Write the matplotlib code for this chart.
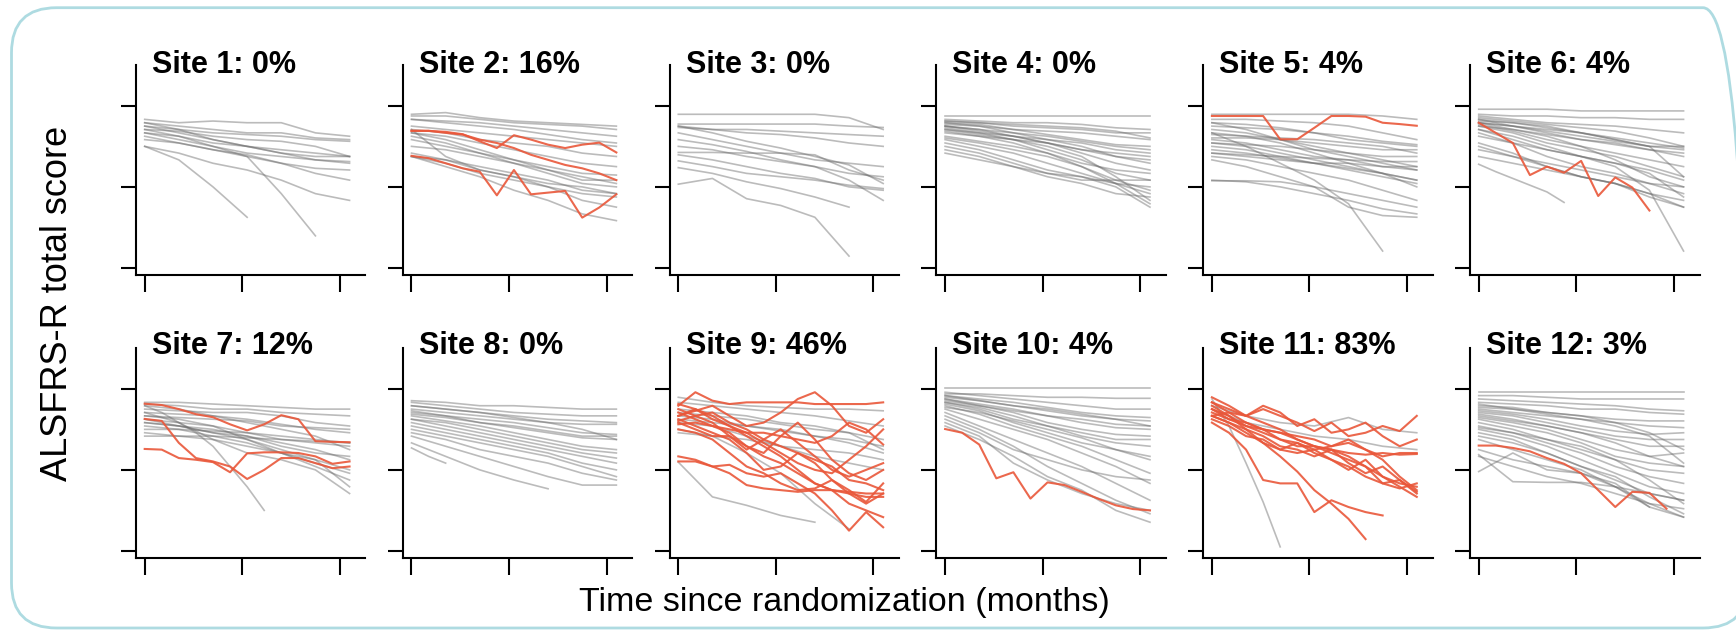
import matplotlib
matplotlib.use("Agg")
import matplotlib.pyplot as plt
from matplotlib.patches import FancyBboxPatch
from matplotlib.transforms import IdentityTransform

# visit schedules (months since randomization)
coarse_months = [0, 2.1, 4.2, 6.3, 8.4, 10.5, 12.6]
fine_months = [0, 1.05, 2.1, 3.15, 4.2, 5.25, 6.3, 7.35, 8.4, 9.45, 10.5, 11.55, 12.6]

titles = ["Site 1: 0%", "Site 2: 16%", "Site 3: 0%", "Site 4: 0%", "Site 5: 4%", "Site 6: 4%",
          "Site 7: 12%", "Site 8: 0%", "Site 9: 46%", "Site 10: 4%", "Site 11: 83%", "Site 12: 3%"]

# ALSFRS-R scores, gray = coarse schedule, red = fine schedule
s1_gray = [
    [44, 43, 43.5, 43, 43, 40, 39], [43, 42, 41, 40, 40, 38.5, 38], [42, 41, 40, 39.5, 39, 38, 37.5],
    [41, 40.5, 39, 38, 37.5, 36, 33], [42, 40, 38, 36, 35, 34, 33], [40, 39, 37, 36, 34, 32, 31],
    [39, 37, 35, 33, 31, 29.5, 29], [38, 37, 35, 33.5, 31, 28, 26], [36, 34, 31, 29, 26, 22, 20],
    [36, 32, 24, 15], [41, 39, 36, 33, 22, 9.5], [40, 38, 36, 34, 33, 32, 31.5],
    [43, 41, 38, 36, 34, 33, 33]]
s1_gray_fine = []
s1_red = []

s2_gray = [
    [45.5, 46, 44.5, 43.5, 43, 42.5, 42], [45, 45, 44, 43, 42.5, 42, 41], [44, 43.5, 43, 42, 41, 40, 39],
    [42, 41, 40, 39, 38, 37, 36], [41, 40, 38, 37, 36, 34, 33], [40, 39, 37, 35, 33, 31, 30],
    [40, 38, 35, 32, 30, 28, 27.5], [33, 32, 29, 27, 25, 24, 22], [33, 31, 28, 26, 24, 22, 21],
    [41, 33, 29, 27, 24, 20, 18], [33, 30, 27, 23, 20, 16, 14], [39, 37, 34, 32, 29, 26, 26],
    [36, 35, 33, 31, 29, 27, 25], [44, 43, 42, 41, 39.5, 38, 37], [34, 32, 30, 28, 26, 23, 22],
    [38, 36, 34, 31, 28, 25, 24]]
s2_gray_fine = []
s2_red = [
    [40.6, 40.6, 40.3, 39.6, 37.5, 35.5, 39.3, 38, 36.5, 35.5, 36.5, 37.1, 34.2],
    [40.6, 40.6, 40, 39.5, 38, 37, 35.5, 33.5, 32, 30.5, 29.5, 28, 26],
    [33.2, 32.5, 31, 29.5, 28.5, 21.5, 29, 21.8, 22.3, 22.8, 14.9, 17.9, 21.8]]

s3_gray = [
    [45.5, 45.5, 45.5, 45.5, 45.5, 44.5, 41], [42.6, 42.6, 42.6, 42.6, 42.6, 42, 41.6],
    [41.6, 41, 41, 40.5, 40, 39.5, 39], [42, 41, 40, 39.5, 38.5, 37, 36], [42, 40, 37.5, 35.5, 33, 30.5, 25],
    [34.2, 34.2, 34, 34, 33.5, 29, 26], [33.5, 32, 30, 28, 26.5, 24, 23], [31.7, 30, 28, 27, 26, 24.5, 23.5],
    [29.7, 28, 25.5, 23.5, 21, 18], [24.8, 26.5, 20.5, 18.5, 15, 3.5], [38, 36.5, 34.5, 32, 30, 26, 20],
    [40, 38, 36, 34, 32, 31, 30], [36, 35, 33, 31.5, 30, 28, 27]]
s3_gray_fine = []
s3_red = []

s4_gray = [
    [45, 45, 45, 45, 45, 45, 45], [44, 43.5, 43, 43, 42.5, 41.5, 41], [43.5, 43, 42, 41.5, 41, 40, 40],
    [43, 42, 41, 40.5, 40, 39, 38], [43, 42.5, 41, 39.5, 38, 36.5, 36], [42.5, 42, 40, 38, 37, 35, 34],
    [42, 41, 39, 37, 34, 31, 29], [42, 40.5, 39, 38, 36, 33, 32], [41, 40, 38, 35, 32, 28, 26],
    [41, 39.5, 38, 36, 33, 27, 20], [40.5, 39, 37, 34, 30, 25, 19], [40, 39, 38, 37, 35, 33, 31],
    [39, 37.5, 36, 34, 31, 29, 28], [38.5, 37, 35, 33, 30, 26, 23], [38, 36, 34, 31, 28, 25, 24],
    [37, 35, 32, 29, 27, 24, 18], [36, 34, 31, 28, 26, 26, 26], [35, 33, 30, 27, 25, 22, 21],
    [34, 32, 30, 28, 27, 25, 22], [43.5, 43, 42.5, 42, 41.5, 40.5, 38.5], [42, 41, 40, 39, 37.5, 36, 35],
    [41.5, 40, 39, 37, 35, 34, 33]]
s4_gray_fine = []
s4_red = []

s5_gray = [
    [45.5, 45.5, 45.5, 45.5, 45.5, 45, 44], [44, 44, 43.5, 43, 42, 40, 38], [43, 42.5, 41.5, 40, 38, 37, 36],
    [42, 41.5, 41, 40, 39, 37.5, 36.5], [43, 41, 38, 35, 33, 31, 29], [41, 40, 38, 36, 34, 32, 30],
    [40, 39, 37, 34, 31, 28, 26], [38.5, 38.5, 38, 37, 36, 35, 35], [38, 37, 35, 33, 32, 30, 29],
    [37, 36, 34, 32, 30, 28, 24], [34, 33.5, 33, 32.5, 32, 31.5, 31.5], [34, 33, 32, 31, 31, 30, 30],
    [33, 32, 30, 28, 26, 23, 20], [32, 30, 27, 24, 18, 15.5, 15], [40, 36, 31, 26, 19, 5],
    [25.8, 25.8, 25.5, 24, 22, 20, 18], [26, 25.5, 24, 22, 20, 17.5, 16], [36, 35, 33, 31, 29, 27, 25],
    [35, 34, 32.5, 31, 29.5, 28, 26], [39.5, 39, 38.5, 38, 37, 36, 34], [37, 36.5, 36, 35, 34, 33, 33]]
s5_gray_fine = []
s5_red = [[45, 45, 45, 45, 38.1, 38.1, 41.5, 45, 45, 44.8, 43, 42.6, 42.1]]

s6_gray = [
    [47, 47, 47, 46.5, 46.5, 46.5, 46.5], [45.5, 45, 45, 44.5, 44.5, 44, 44], [45, 44, 43, 42.5, 42, 41, 40],
    [44.5, 43.5, 42.5, 41.5, 40.5, 38.5, 36], [44, 43, 41.5, 40, 38.5, 37, 35.5], [43.5, 43, 42, 40, 38, 36, 36],
    [43, 42, 40.5, 39, 37.5, 36, 35], [43, 41, 39.5, 38, 36.5, 35, 34], [42.5, 40.5, 38, 36, 34, 32, 30],
    [42, 40, 37, 35, 33, 30, 27], [42, 41, 39, 36, 32, 27, 24], [41, 38, 35, 33, 31, 29, 26],
    [40, 37, 33, 30, 28, 25, 22], [39, 37, 35, 33, 31, 28, 21], [37, 34, 30, 27, 25, 22, 18],
    [36, 33, 30, 27, 25, 21, 18], [33, 31, 29, 27, 25, 22, 20], [41, 39, 36, 33, 30, 23, 5],
    [44, 42, 40, 38, 37, 35, 33], [43, 42, 41, 40, 38, 36, 27], [35, 33, 31, 29, 27, 25, 24]]
s6_gray_fine = [[30.7, 28.5, 26.5, 24.5, 22.5, 19.4]]
s6_red = [[43, 40, 37, 27.5, 30, 28.2, 31.7, 21.3, 26.8, 23.8, 17]]

s7_gray = [
    [44, 44, 43.5, 43, 42.5, 42, 42], [43.5, 43, 42, 42, 41, 40.5, 40], [42, 41.5, 41, 41, 40, 38, 37],
    [41, 40.5, 40, 39, 37.5, 36, 35], [40, 39.5, 39, 38.5, 37, 36.5, 36], [39, 38, 37, 35, 33, 32, 31],
    [38, 37, 35, 34, 31, 29, 28], [40, 39, 37, 33, 29, 25, 21], [41, 38, 33, 29, 27, 24, 17],
    [36, 36, 35.5, 35, 34, 33, 32], [34, 34, 34, 33.5, 33, 32.5, 32], [38, 37, 35, 33, 30, 27, 24],
    [37, 36, 34, 32, 29, 27, 19], [43, 42, 40, 38, 36, 34, 30], [39, 37, 36, 34, 32, 30, 27],
    [35, 34, 33, 31, 29, 26, 23]]
s7_gray_fine = [[43, 41, 38, 35, 31, 25, 19, 12]]
s7_red = [
    [43.6, 43.2, 42, 40.5, 39.6, 37.5, 35.7, 37.5, 40.2, 39, 32.5, 32.3, 32.2],
    [30.2, 30, 27.5, 27, 26.3, 23.3, 28.9, 29.2, 29.2, 29, 28, 25.8, 26.5],
    [39.1, 38.5, 32, 27.5, 26.5, 25, 21.3, 24, 27.5, 27.5, 26, 24.5, 25]]

s8_gray = [
    [44.5, 44, 43, 43, 42.5, 42, 42], [44, 43, 42, 41, 40.5, 40, 40], [43, 42, 41, 40, 39, 38.5, 38],
    [42, 41, 40, 39, 38, 37.5, 37.5], [41.5, 40, 39, 38, 36.5, 35, 34.5], [41, 40, 38, 37, 35.5, 34, 34],
    [40.5, 39.5, 38, 36.5, 35, 33.5, 33], [40, 38.5, 37, 35, 33, 31, 30], [39, 37, 35, 33, 31, 29, 27.5],
    [38, 36, 34, 32, 30, 28, 26], [37, 35, 33, 31, 29, 26, 24], [36, 34, 32, 30, 28, 25, 22],
    [35, 33, 30, 28, 26, 23, 21], [34, 31, 28, 25, 22, 19.5, 19.5], [32, 28, 24, 21, 18.4],
    [43, 42, 41, 39.5, 38, 36, 33], [39, 38, 36, 34, 32, 30, 29]]
s8_gray_fine = [[30.5, 28, 26]]
s8_red = []

s9_gray = [
    [45.5, 44, 43, 42.5, 42, 42, 41.5], [41, 40, 39, 37.5, 36, 35, 33], [40, 39, 37, 35.5, 34, 32, 29],
    [39, 38, 37, 36, 34, 33, 31], [38, 37, 34, 31, 28, 26, 24], [26.3, 16, 13.5, 10.5, 8.5],
    [36, 34, 29, 23, 14, 6.5], [42, 41, 40, 38, 37, 35, 30], [35, 34, 33, 31, 30, 29, 27],
    [44, 43, 42, 41, 40, 38.5, 37]]
s9_gray_fine = []
s9_red = [
    [43, 47, 44.5, 43.5, 44, 44, 44, 44, 43.5, 43.5, 43.5, 43.5, 44],
    [40, 41.5, 43, 40, 37, 38, 41, 45, 47, 43, 37, 35, 39],
    [38.5, 40, 41, 38, 36, 33, 31, 29, 27, 25, 21, 20, 18],
    [37.5, 38, 37, 35, 31, 29, 34, 38, 33, 27, 23, 21, 24],
    [41, 39, 37, 36, 35, 32, 29, 26, 24, 23, 27, 31, 36],
    [39, 37, 35, 33, 29, 24, 25, 29, 26, 21, 18, 14.5, 20],
    [36, 35, 33, 29, 25, 23, 20, 18, 18.5, 21, 17, 14, 17],
    [26.5, 26.5, 25, 25.5, 23, 22, 23, 20, 17, 12, 6, 11.5, 7],
    [28, 27, 25, 23, 19.5, 18.5, 18, 17.5, 18, 18, 17.5, 17, 17],
    [42, 40, 38, 34, 30, 33, 36, 32, 28, 24, 22, 24, 26],
    [40, 42, 39, 37, 35, 35, 34, 33, 32, 34, 38, 36, 31.5],
    [43.5, 42, 40, 37, 34, 31, 28, 24, 20, 18, 17, 16, 16],
    [38, 36, 34, 34, 31, 28, 26, 23, 20, 18, 14, 12, 10]]

s10_gray = [
    [48.2, 48.2, 48.2, 48.2, 48.2, 48.2, 48.2], [46.5, 46.5, 46, 45.5, 45.5, 45.2, 45.2],
    [47, 46, 45, 44, 43, 42, 42], [46, 45, 44, 42.5, 41, 40, 39.5], [45.5, 44.5, 43, 41.5, 40, 39, 38.5],
    [45, 43.5, 42, 40, 38, 36.5, 36], [44.5, 43, 41, 38, 36, 34.5, 34], [44, 42.5, 40, 37, 35, 33, 33],
    [43.5, 41.5, 38, 35, 32, 30, 27], [43, 40.5, 37, 34, 31, 27, 23], [42, 39, 36, 33, 29, 25, 20],
    [41, 37, 33, 29, 25, 20, 15], [40, 36, 31, 25, 20, 15, 11], [39, 35, 30, 27, 24, 22, 21],
    [37, 33, 28, 22, 18, 12, 8.5], [45, 43, 41.5, 40, 39, 37.5, 37], [44, 42, 39, 37, 34, 32, 31],
    [38, 34, 26, 21, 17, 14, 12], [42.5, 41, 38.5, 36, 33.5, 30, 28], [46, 44.5, 43, 42, 40.5, 39, 37]]
s10_gray_fine = []
s10_red = [[36.1, 35, 31.5, 21.5, 23.3, 15.5, 20.3, 19.5, 17.5, 15.4, 13.5, 12.4, 12]]

s11_gray = [[43, 40, 38, 37, 39.5, 36, 35], [42, 38, 36, 34, 33, 31, 30]]
s11_gray_fine = [[45, 37, 26, 14.5, 1.2]]
s11_red = [
    [45.5, 43, 40, 42, 40, 38, 35.5, 38, 34, 35, 37, 35.5, 40],
    [44, 41, 40, 43, 41, 37, 39, 35, 36, 38, 34, 31, 33],
    [42, 40, 37, 36, 33, 31, 31, 30, 29, 28.5, 29, 28.5, 28.7],
    [41, 39, 37, 35, 33, 32, 30, 31, 33, 30, 28, 29, 29],
    [43, 40, 36, 32, 30, 29, 30, 27, 25, 22, 20, 18.5, 20],
    [40, 38, 36, 34, 31, 30, 28, 30, 26, 23, 25, 21, 17.5],
    [39, 37, 34, 33, 30, 32, 29, 27, 24, 27, 22, 19, 16],
    [38, 35, 30, 21, 20, 20, 11.5, 15, 13, 11.5, 10.5],
    [40, 38, 35, 32, 28, 23.5, 18, 14, 9.5, 3.5],
    [44, 42, 40, 38, 36, 33, 31, 29, 27, 25, 22, 20, 19],
    [40, 41, 38, 36, 35, 34, 33, 31, 32, 30, 27, 22, 18],
    [42, 39, 38, 36, 35, 33, 31, 30, 28, 25, 20, 21, 17]]

s12_gray = [
    [47, 47, 47, 47, 47, 47, 47], [46, 46, 45.5, 45, 45, 45, 45], [45, 44.5, 44, 43.5, 43, 42, 41.5],
    [44, 43.5, 43, 42, 42, 41, 40.5], [43, 42.5, 41, 40, 39, 38.5, 38.5], [42, 41, 40, 39, 38, 37, 36.5],
    [41.5, 40.5, 39, 37, 35.5, 34.5, 35], [41, 40, 38, 36, 34, 33, 33], [40, 38.5, 37, 35, 33, 31, 31],
    [39.5, 38, 36, 33, 30, 28, 29], [39, 37, 35, 32, 28, 26, 25], [38, 36, 33, 30, 27, 24, 23],
    [37, 35, 32, 29, 25, 22, 20], [36, 34, 31, 27, 23, 19, 17], [35, 33, 29, 25, 21, 17, 15],
    [34, 32, 29, 25, 22, 16, 11], [33, 30, 27, 24, 19, 14, 10], [30, 27, 25, 23, 20, 13, 10],
    [28, 25, 22, 20, 17, 14, 12.5], [23.5, 29, 24, 23, 19, 13], [43.5, 42, 40.5, 39, 37, 34, 26],
    [40.5, 39, 37, 35, 32, 28, 25], [36.5, 35, 33, 31, 27, 21, 14], [42.5, 42, 41, 40, 38, 35, 30],
    [28.5, 20.5, 20.3, 20.3, 19, 17, 15]]
s12_gray_fine = []
s12_red = [[31.2, 31.2, 30.5, 29.5, 27.5, 25.8, 23, 18, 13, 17.5, 17.2, 12.5]]

sites = [
    (s1_gray, s1_gray_fine, s1_red), (s2_gray, s2_gray_fine, s2_red), (s3_gray, s3_gray_fine, s3_red),
    (s4_gray, s4_gray_fine, s4_red), (s5_gray, s5_gray_fine, s5_red), (s6_gray, s6_gray_fine, s6_red),
    (s7_gray, s7_gray_fine, s7_red), (s8_gray, s8_gray_fine, s8_red), (s9_gray, s9_gray_fine, s9_red),
    (s10_gray, s10_gray_fine, s10_red), (s11_gray, s11_gray_fine, s11_red), (s12_gray, s12_gray_fine, s12_red)]

W, H = 1736, 630
fig = plt.figure(figsize=(W / 100, H / 100), dpi=100)
fig.patch.set_facecolor("white")
plt.rcParams["font.family"] = ["Liberation Sans", "DejaVu Sans"]

gray = "#6a6a6a"
red = "#e9573a"

for i, (g, gf, r) in enumerate(sites):
    row, col = divmod(i, 6)
    left = 136 + 266.8 * col
    top = 65 if row == 0 else 348
    ax = fig.add_axes([left / W, 1 - (top + 210) / H, 229.5 / W, 210 / H])
    for line in g:
        ax.plot(coarse_months[:len(line)], line, color=gray, alpha=0.45, lw=1.2, solid_joinstyle="round")
    for line in gf:
        ax.plot(fine_months[:len(line)], line, color=gray, alpha=0.45, lw=1.2, solid_joinstyle="round")
    for line in r:
        ax.plot(fine_months[:len(line)], line, color=red, alpha=0.9, lw=1.5, solid_joinstyle="round")
    ax.set_xlim(-0.535, 13.58)
    ax.set_ylim(-2.1, 60.1)
    ax.set_xticks([0, 6, 12])
    ax.set_yticks([0, 24, 48])
    ax.tick_params(labelbottom=False, labelleft=False, direction="out", width=1.5)
    ax.tick_params(axis="x", length=12)
    ax.tick_params(axis="y", length=11)
    for s in ["top", "right"]:
        ax.spines[s].set_visible(False)
    for s in ["left", "bottom"]:
        ax.spines[s].set_linewidth(1.5)
    ax.patch.set_alpha(0)
    ax.text(0.07, 1.0 if row == 0 else 1.01, titles[i], transform=ax.transAxes,
            fontsize=22, fontweight="bold", ha="left", va="center")

fig.text(844 / W, 1 - 603 / H, "Time since randomization (months)", fontsize=24.5,
         ha="center", va="center")
fig.text(58 / W, 1 - 303.5 / H, "ALSFRS-R total score", fontsize=26, rotation=90,
         ha="center", va="center")

border = FancyBboxPatch((11.5, 2), 1748 - 11.5, 620.3, boxstyle="round,pad=0,rounding_size=45",
                        transform=IdentityTransform(), facecolor="none", edgecolor="#aedbe1",
                        linewidth=2, clip_on=False)
fig.add_artist(border)

fig.savefig("out.png", dpi=100)
